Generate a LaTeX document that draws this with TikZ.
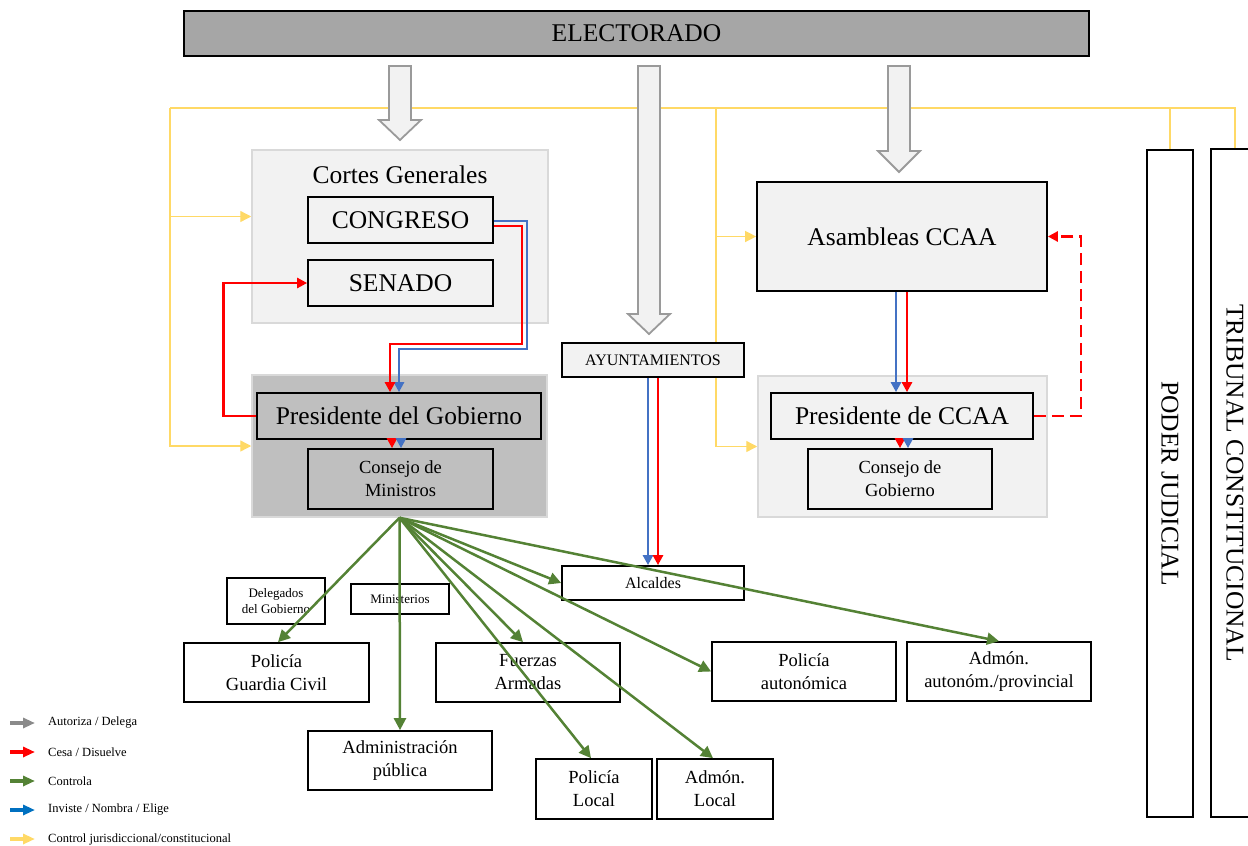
\documentclass[tikz,border=0pt]{standalone}
\usepackage{fontspec}
\setmainfont{Liberation Serif}
\usetikzlibrary{arrows.meta,calc}
\pgfdeclarelayer{bg}
\pgfsetlayers{bg,main}
\definecolor{ygold}{HTML}{FFD966}
\definecolor{gbox}{HTML}{F2F2F2}
\definecolor{gdark}{HTML}{BFBFBF}
\definecolor{gelec}{HTML}{A6A6A6}
\definecolor{gborder}{HTML}{D9D9D9}
\definecolor{cgreen}{HTML}{548235}
\definecolor{cblue}{HTML}{4472C4}
\definecolor{lblue}{HTML}{0070C0}
\definecolor{cred}{HTML}{FF0000}
\definecolor{agray}{HTML}{9A9A9A}
\definecolor{lgray}{HTML}{8A8A8A}
\newcommand{\blkarr}[4]{\filldraw[blk] ({#1-11},#2) -- ({#1+11},#2) -- ({#1+11},#3) -- ({#1+21},#3) -- (#1,#4) -- ({#1-21},#3) -- ({#1-11},#3) -- cycle;}
\tikzset{
 bx/.style={draw=black, fill=white, line width=1.7pt, inner sep=0pt, align=center},
 grp/.style={draw=gborder, line width=1.5pt, inner sep=0pt},
 sz/.style 2 args={minimum width=#1pt, minimum height=#2pt},
 fbig/.style={font=\fontsize{25.5}{30}\selectfont},
 fmid/.style={font=\fontsize{18.5}{23}\selectfont},
 fsml/.style={font=\fontsize{16}{19}\selectfont},
 ftin/.style={font=\fontsize{13}{16}\selectfont},
 flg/.style={font=\fontsize{12.5}{15}\selectfont, anchor=west, inner sep=0pt},
 rarr/.style={draw=cred, line width=2.7pt, -{Triangle[length=10pt,width=10pt]}},
 barr/.style={draw=cblue, line width=2.7pt, -{Triangle[length=10pt,width=10pt]}},
 garr/.style={draw=cgreen, line width=2.5pt, -{Triangle[length=12pt,width=12pt]}},
 yarr/.style={draw=ygold, line width=1.4pt, -{Triangle[length=11pt,width=11pt]}},
 yln/.style={draw=ygold, line width=1.4pt},
 blk/.style={fill=gbox, draw=agray, line width=1.8pt, line join=miter},
 legarr/.style={line width=3.2pt, -{Triangle[length=12pt,width=10pt]}}
}
\begin{document}
\begin{tikzpicture}[x=1pt,y=-1pt]
\useasboundingbox (0,0) rectangle (1248,846);
\clip (0,0) rectangle (1248,846);
% top
\node[bx, fill=gelec, sz={905}{45}, fbig] (elect) at (636.5,33.5) {ELECTORADO};
% Cortes
\node[grp, fill=gbox, sz={296}{173}] (cortes) at (400,236.5) {};
\node[fbig] (cortest) at (400,175) {Cortes Generales};
\node[bx, fill=gbox, sz={185}{46}, fbig] (congreso) at (400.5,220) {CONGRESO};
\node[bx, fill=gbox, sz={185}{46}, fbig] (senado) at (400.5,283) {SENADO};
% Gobierno
\node[grp, fill=gdark, sz={295}{142}] (pgo) at (399.5,446) {};
\node[bx, fill=gdark, sz={284}{46}, fbig] (pg) at (399,416) {Presidente del Gobierno};
\node[bx, fill=gdark, sz={185}{60}, fmid] (cm) at (400.5,479) {Consejo de\\Ministros};
% Ayuntamientos
\node[bx, fill=gbox, sz={182}{34}, fsml] (ayunt) at (653,360) {AYUNTAMIENTOS};
\node[bx, sz={182}{34}, fsml] (alc) at (653,583) {Alcaldes};
% CCAA
\node[bx, fill=gbox, sz={290}{109}, fbig] (asamb) at (902,236.5) {Asambleas CCAA};
\node[grp, fill=gbox, sz={289}{141}] (pco) at (902.5,446.5) {};
\node[bx, fill=gbox, sz={262}{46}, fbig] (pccaa) at (902,416) {Presidente de CCAA};
\node[bx, fill=gbox, sz={184}{60}, fmid] (cg) at (900,479) {Consejo de\\Gobierno};
% Judicial
\node[bx, sz={46}{667}] (poder) at (1170,483.5) {};
\node[fbig, rotate=-90] (podert) at (poder.center) {PODER JUDICIAL};
\node[bx, sz={48}{668}] (trib) at (1235,483) {};
\node[fbig, rotate=-90] (tribt) at (trib.center) {TRIBUNAL CONSTITUCIONAL};
% bottom
\node[bx, sz={98}{46}, ftin] (deleg) at (276,601) {Delegados\\del Gobierno};
\node[bx, sz={98}{30}, ftin] (minis) at (400,599) {Ministerios};
\node[bx, sz={185}{59}, fmid] (pgc) at (276.5,672.5) {Policía\\Guardia Civil};
\node[bx, sz={184}{59}, fmid] (apub) at (400,760.5) {Administración\\pública};
\node[bx, sz={184}{59}, fmid] (ffaa) at (528,672.5) {Fuerzas\\Armadas};
\node[bx, sz={116}{60}, fmid] (ploc) at (594,789) {Policía\\Local};
\node[bx, sz={116}{60}, fmid] (aloc) at (715,789) {Admón.\\Local};
\node[bx, sz={184}{59}, fmid] (paut) at (804,671.5) {Policía\\autonómica};
\node[bx, sz={184}{59}, fmid] (aprov) at (999,671.5) {Admón.\\autonóm./provincial};

% yellow network (background)
\begin{pgfonlayer}{bg}
\coordinate (yTL) at (170,108);
\coordinate (yTR) at (1235,108);
\coordinate (yM) at (716,108);
\coordinate (cortesIn) at ($(cortes.west)+(0,-20)$);
\draw[yln] (yTL) -- (yTR) -- (trib.north);
\draw[yln] (poder.north |- yTL) -- (poder.north);
\draw[yarr] (yTL) |- (pgo.west);
\draw[yarr] (yTL |- cortesIn) -- (cortesIn);
\draw[yarr] (yM) |- (pco.west);
\draw[yarr] (yM |- asamb.west) -- (asamb.west);
\end{pgfonlayer}

% block arrows from ELECTORADO
\blkarr{400}{66}{120}{140}
\blkarr{649}{66}{314}{334}
\blkarr{899}{66}{151}{172}

% red / blue
\draw[barr] ($(congreso.east)+(0,1)$) -- ++(33,0) -- ++(0,128) -| (pg.north);
\draw[rarr] ($(congreso.east)+(0,6)$) -- ++(28,0) -- ++(0,118) -| ($(pg.north)+(-9,0)$);
\draw[rarr] (pg.west) -- ++(-33,0) |- (senado.west);
\draw[rarr] ($(pg.south)+(-7,0)$) -- ($(cm.north)+(-8.5,0)$);
\draw[barr] ($(pg.south)+(2,0)$) -- ($(cm.north)+(0.5,0)$);
\draw[barr] ($(asamb.south)+(-6,0)$) -- ($(pccaa.north)+(-6,0)$);
\draw[rarr] ($(asamb.south)+(5,0)$) -- ($(pccaa.north)+(5,0)$);
\draw[rarr] ($(pccaa.south)+(-2,0)$) -- (cg.north);
\draw[barr] ($(pccaa.south)+(6,0)$) -- ($(cg.north)+(8,0)$);
\draw[barr] ($(ayunt.south)+(-5,0)$) -- ($(alc.north)+(-5,0)$);
\draw[rarr] ($(ayunt.south)+(5,0)$) -- ($(alc.north)+(5,0)$);
\draw[rarr, dash pattern=on 12pt off 6pt] (pccaa.east) -- ++(47,0) |- (asamb.east);

% green
\coordinate (gs) at (pgo.south);
\draw[garr] (gs) -- ($(pgc.north)+(1.5,0)$);
\draw[garr] (gs) -- (apub.north);
\draw[garr] (gs) -- ($(ffaa.north)+(-5,0)$);
\draw[garr] (gs) -- ($(ploc.north)+(-3,0)$);
\draw[garr] (gs) -- ($(aloc.north)+(-2,0)$);
\draw[garr] (gs) -- (alc.west);
\draw[garr] (gs) -- (paut.west);
\draw[garr] (gs) -- (aprov.north);

% legend
\node[flg] (lg1) at (48,723) {Autoriza / Delega};
\node[flg] (lg2) at (48,752) {Cesa / Disuelve};
\node[flg] (lg3) at (48,781) {Controla};
\node[flg] (lg4) at (48,810) {Inviste / Nombra / Elige};
\node[flg] (lg5) at (48,839) {Control jurisdiccional/constitucional};
\draw[legarr, draw=lgray] ($(lg1.west)+(-38,0)$) -- ($(lg1.west)+(-13,0)$);
\draw[legarr, draw=cred] ($(lg2.west)+(-38,0)$) -- ($(lg2.west)+(-13,0)$);
\draw[legarr, draw=cgreen] ($(lg3.west)+(-38,0)$) -- ($(lg3.west)+(-13,0)$);
\draw[legarr, draw=lblue] ($(lg4.west)+(-38,0)$) -- ($(lg4.west)+(-13,0)$);
\draw[legarr, draw=ygold] ($(lg5.west)+(-38,0)$) -- ($(lg5.west)+(-13,0)$);
\end{tikzpicture}
\end{document}
